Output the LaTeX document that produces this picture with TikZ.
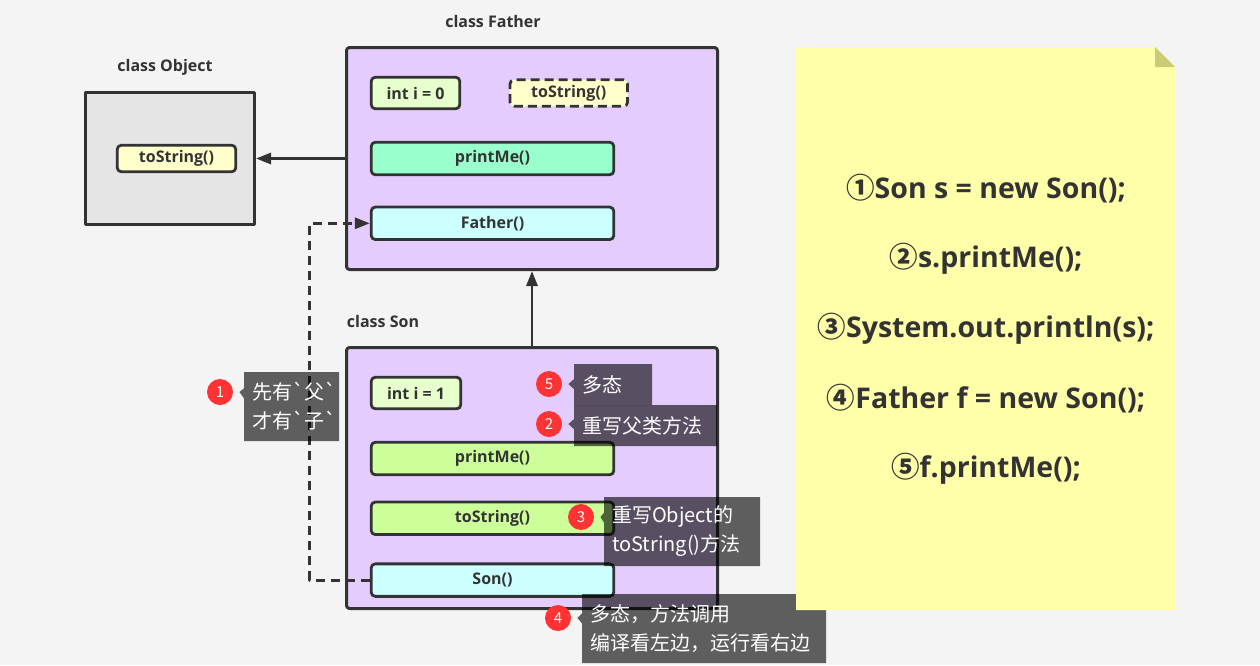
\documentclass[tikz,border=0pt]{standalone}
\usepackage{fontspec}
\setmainfont{Open Sans}
\newfontfamily\cjk{Noto Sans CJK SC}
\usetikzlibrary{arrows.meta}
\usetikzlibrary{positioning}
\usetikzlibrary{shapes.callouts}
\usetikzlibrary{calc}

\definecolor{ink}{HTML}{333333}
\definecolor{bgcol}{HTML}{F4F4F4}
\definecolor{objfill}{HTML}{E5E5E5}
\definecolor{classfill}{HTML}{E5CCFF}
\definecolor{strfill}{HTML}{FFFFCC}
\definecolor{intfill}{HTML}{E6FFCC}
\definecolor{mintfill}{HTML}{99FFCC}
\definecolor{ctorfill}{HTML}{CCFFFF}
\definecolor{limefill}{HTML}{CCFF99}
\definecolor{notefill}{HTML}{FFFFAA}
\definecolor{foldfill}{HTML}{CBCB77}
\definecolor{markred}{HTML}{FF3333}

\begin{document}
\begin{tikzpicture}[x=1pt, y=-1pt, >={Triangle[length=15pt,width=11pt]}, line width=2.9pt, line join=round, draw=ink]
  \tikzstyle{classbox}=[draw=ink, line width=3pt, fill=classfill, rounded corners=3pt, inner sep=0pt]
  \tikzstyle{member}=[draw=ink, line width=2.8pt, rounded corners=4pt, text=ink, inner sep=0pt,
    font=\bfseries\fontsize{16}{16}\selectfont, minimum height=32.5pt]
  \tikzstyle{title}=[text=ink, font=\bfseries\fontsize{16}{16}\selectfont]
  \tikzstyle{marker}=[circle, fill=markred, text=white, inner sep=0pt, minimum size=26pt,
    font=\cjk\fontsize{15}{15}\selectfont]
  \tikzstyle{tip}=[rectangle callout, draw=none, fill=black, fill opacity=0.61, text opacity=1, text=white,
    inner xsep=8pt, inner ysep=0pt, align=left, callout pointer width=10pt,
    font=\cjk\fontsize{20}{29}\selectfont]
  \tikzstyle{notetext}=[text=ink, font=\bfseries\fontsize{28.5}{28.5}\selectfont]

  \useasboundingbox (0,0) rectangle (1260,665);
  \fill[bgcol] (0,0) rectangle (1260,665);

  % class Object
  \node[draw=ink, line width=3pt, fill=objfill, minimum width=169pt, minimum height=132pt] (obox) at (170,158.5) {};
  \node[member, fill=strfill, minimum width=118.5pt, minimum height=26.5pt] (ostr) at (176.5,158.5) {toString()};
  \node[title] (otitle) at (165,67) {class Object};

  % class Father
  \node[classbox, minimum width=371pt, minimum height=222pt] (fbox) at (532,158.5) {};
  \node[title] (ftitle) at (493,21.5) {class Father};
  \node[member, fill=intfill, minimum width=88.5pt, minimum height=31.5pt] (fint) at (415.5,93) {int i = 0};
  \node[member, fill=strfill, dash pattern=on 9pt off 5pt, minimum width=117.5pt, minimum height=26.5pt] (fstr) [right=47.5pt of fint] {toString()};
  \node[member, fill=mintfill, minimum width=242.5pt] (fprint) at (492.5,158.5) {printMe()};
  \node[member, fill=ctorfill, minimum width=242.5pt] (fctor) [below=29.5pt of fprint] {Father()};

  % class Son
  \node[classbox, minimum width=371pt, minimum height=261pt] (sbox) at (532,478) {};
  \node[title] (stitle) at (383,321.5) {class Son};
  \node[member, fill=intfill, minimum width=89.5pt, minimum height=31.5pt] (sint) at (416,393) {int i = 1};
  \node[member, fill=limefill, minimum width=242.5pt] (sprint) at (492.5,458.5) {printMe()};
  \node[member, fill=limefill, minimum width=242.5pt] (sstr) [below=24.5pt of sprint] {toString()};
  \node[member, fill=ctorfill, minimum width=242.5pt] (sctor) [below=26.5pt of sstr] {Son()};

  \path (fbox) edge [->, ink] (obox)
        (sbox) edge [->, ink] (fbox);
  \draw[ink, dash pattern=on 9pt off 6pt, ->] (sctor.west) -- ++(-60,0) |- (fctor.west);

  % markers and tips
  \node[marker] (m1) at (220,392) {1};
  \node[marker] (m5) at (549,384) {5};
  \node[marker] (m2) at (549,424) {2};
  \node[marker] (m3) at (581,517) {3};
  \node[marker] (m4) at (558,618) {4};

  \node[tip, text width=79pt, minimum height=69pt, callout absolute pointer={($(m1.east)+(5,0)$)}] (t1) at (291.5,406.5) {先有`父`\\才有`子`};
  \node[tip, text width=62pt, minimum height=41pt, callout absolute pointer={($(m5.east)+(5,0)$)}] (t5) at (613,384.5) {多态};
  \node[tip, text width=127pt, minimum height=41pt, callout absolute pointer={($(m2.east)+(5,0)$)}] (t2) at (645.5,425.5) {重写父类方法};
  \node[tip, text width=140pt, minimum height=69pt, callout absolute pointer={($(m3.east)+(5,0)$)}] (t3) at (682,531.5) {重写Object的\\toString()方法};
  \node[tip, text width=228pt, minimum height=69pt, callout absolute pointer={($(m4.east)+(5,0)$)}] (t4) at (704,628.5) {多态，方法调用\\编译看左边，运行看右边};

  % note
  \fill[notefill] (796,47) -- (1155,47) -- (1175,67) -- (1175,610) -- (796,610) -- cycle;
  \fill[foldfill] (1155,47) -- (1155,67) -- (1175,67) -- cycle;
  \foreach \num/\code [count=\k] in {①/Son s = new Son();, ②/s.printMe();, ③/System.out.println(s);, ④/Father f = new Son();, ⑤/f.printMe();}
    \node[notetext] (line\k) at (986,{119+70*\k}) {{\cjk\bfseries\num}\code};
\end{tikzpicture}
\end{document}
